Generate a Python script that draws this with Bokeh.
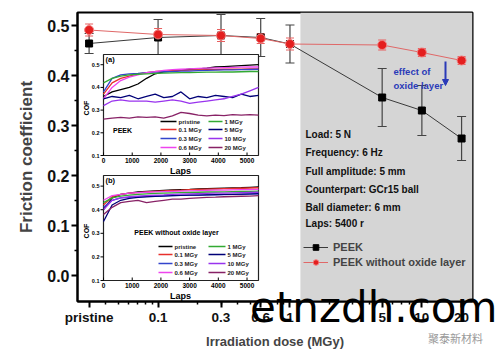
import math
from bokeh.plotting import figure
from bokeh.layouts import column
from bokeh.models import (Range1d, LinearScale, FixedTicker, Whisker, TeeHead, BoxAnnotation,
                          Legend, LegendItem, ColumnDataSource, Arrow, NormalHead, Div)
from bokeh.core.properties import value
from bokeh.embed import file_html
from bokeh.resources import INLINE

# ---------------- main chart data ----------------
doses = [0.03, 0.1, 0.3, 0.6, 1, 5, 10, 20]
dose_tick_labels = ["pristine", "0.1", "0.3", "0.6", "1", "5", "10", "20"]
peek_cof = [0.464, 0.476, 0.480, 0.476, 0.463, 0.356, 0.330, 0.274]
peek_err = [0.020, 0.036, 0.042, 0.038, 0.038, 0.058, 0.050, 0.044]
noox_cof = [0.491, 0.482, 0.480, 0.474, 0.463, 0.461, 0.446, 0.430]
noox_err = [0.012, 0.012, 0.012, 0.010, 0.012, 0.010, 0.008, 0.008]
shaded_from_dose = 1.2
y_ticks = [0.0, 0.1, 0.2, 0.3, 0.4, 0.5]
y_tick_labels = ["0.0", "0.1", "0.2", "0.3", "0.4", "0.5"]
test_conditions = ["Load: 5 N", "Frequency: 6 Hz", "Full amplitude: 5 mm",
                   "Counterpart: GCr15 ball", "Ball diameter: 6 mm", "Laps: 5400 r"]

# ---------------- inset data (COF vs laps) ----------------
laps = [0, 300, 600, 900, 1200, 1500, 1800, 2100, 2400, 2700, 3000,
        3300, 3600, 3900, 4200, 4500, 4800, 5100, 5400]
series_labels = ["pristine", "0.1 MGy", "0.3 MGy", "0.6 MGy", "1 MGy", "5 MGy", "10 MGy", "20 MGy"]
series_colors = ["#000000", "#e8302c", "#3344cc", "#ee44ee", "#33aa33", "#000077", "#9933ee", "#882266"]

# (a) PEEK
a_pristine = [0.36, 0.38, 0.39, 0.40, 0.415, 0.44, 0.46, 0.468, 0.472, 0.476, 0.48, 0.482, 0.485, 0.49, 0.492, 0.494, 0.496, 0.498, 0.50]
a_0p1 = [0.37, 0.42, 0.44, 0.45, 0.46, 0.465, 0.47, 0.472, 0.474, 0.475, 0.476, 0.477, 0.478, 0.479, 0.48, 0.48, 0.481, 0.482, 0.482]
a_0p3 = [0.38, 0.44, 0.455, 0.46, 0.462, 0.465, 0.467, 0.469, 0.47, 0.472, 0.472, 0.474, 0.475, 0.476, 0.477, 0.477, 0.478, 0.479, 0.48]
a_0p6 = [0.35, 0.40, 0.43, 0.445, 0.455, 0.465, 0.47, 0.475, 0.478, 0.48, 0.482, 0.484, 0.485, 0.486, 0.487, 0.488, 0.489, 0.49, 0.49]
a_1 = [0.42, 0.44, 0.45, 0.455, 0.458, 0.46, 0.462, 0.463, 0.464, 0.465, 0.465, 0.466, 0.467, 0.467, 0.468, 0.468, 0.469, 0.47, 0.47]
a_5 = [0.35, 0.36, 0.355, 0.365, 0.35, 0.36, 0.37, 0.355, 0.36, 0.38, 0.35, 0.36, 0.355, 0.365, 0.36, 0.355, 0.37, 0.36, 0.365]
a_10 = [0.32, 0.34, 0.345, 0.34, 0.34, 0.34, 0.335, 0.34, 0.345, 0.34, 0.33, 0.335, 0.34, 0.345, 0.35, 0.36, 0.37, 0.385, 0.40]
a_20 = [0.26, 0.265, 0.268, 0.265, 0.27, 0.268, 0.27, 0.265, 0.275, 0.29, 0.285, 0.278, 0.275, 0.278, 0.276, 0.28, 0.278, 0.28, 0.278]

# (b) PEEK without oxide layer
b_pristine = [0.40, 0.45, 0.465, 0.47, 0.475, 0.478, 0.48, 0.482, 0.484, 0.485, 0.486, 0.488, 0.489, 0.49, 0.491, 0.492, 0.493, 0.495, 0.497]
b_0p1 = [0.42, 0.455, 0.465, 0.47, 0.472, 0.475, 0.478, 0.48, 0.482, 0.483, 0.485, 0.486, 0.487, 0.488, 0.489, 0.49, 0.491, 0.492, 0.493]
b_0p3 = [0.41, 0.44, 0.45, 0.452, 0.455, 0.457, 0.458, 0.46, 0.46, 0.461, 0.462, 0.462, 0.463, 0.463, 0.464, 0.465, 0.465, 0.466, 0.467]
b_0p6 = [0.44, 0.46, 0.465, 0.47, 0.472, 0.474, 0.476, 0.477, 0.478, 0.479, 0.48, 0.481, 0.482, 0.483, 0.483, 0.484, 0.485, 0.485, 0.486]
b_1 = [0.43, 0.45, 0.458, 0.462, 0.465, 0.467, 0.469, 0.47, 0.471, 0.472, 0.473, 0.474, 0.475, 0.475, 0.476, 0.477, 0.478, 0.478, 0.479]
b_5 = [0.35, 0.42, 0.44, 0.448, 0.452, 0.455, 0.457, 0.458, 0.46, 0.461, 0.462, 0.462, 0.463, 0.464, 0.465, 0.465, 0.466, 0.467, 0.468]
b_10 = [0.40, 0.44, 0.45, 0.455, 0.458, 0.46, 0.462, 0.463, 0.465, 0.466, 0.467, 0.468, 0.469, 0.47, 0.47, 0.471, 0.472, 0.473, 0.474]
b_20 = [0.38, 0.41, 0.43, 0.435, 0.44, 0.43, 0.435, 0.44, 0.445, 0.445, 0.448, 0.45, 0.452, 0.453, 0.455, 0.456, 0.457, 0.458, 0.46]

inset_x_ticks = [0, 1000, 2000, 3000, 4000, 5000]
inset_y_ticks = [0.1, 0.2, 0.3, 0.4, 0.5]

a_series = [a_pristine, a_0p1, a_0p3, a_0p6, a_1, a_5, a_10, a_20]
b_series = [b_pristine, b_0p1, b_0p3, b_0p6, b_1, b_5, b_10, b_20]

# ---------------- layout (page pixels) ----------------
FONT = "Liberation Sans"
W, H = 496, 358
FR_L, FR_R, FR_T, FR_B = 77, 472, 12, 301
X_LO, X_HI = 0.0245, 24.2
Y_LO, Y_HI = -0.052, 0.526


def mx(px):
    a, b = math.log10(X_LO), math.log10(X_HI)
    return 10 ** (a + (px - FR_L) / (FR_R - FR_L) * (b - a))


def my(py):
    return Y_LO + (FR_B - py) / (FR_B - FR_T) * (Y_HI - Y_LO)


IN_L, IN_R = 103, 258
A_T, A_B = 54, 155
B_T, B_B = 175, 280
LAPS_LO, LAPS_HI = 0, 5400
COF_LO, COF_HI = 0.1, 0.545
sxl = (LAPS_HI - LAPS_LO) / (IN_R - IN_L)
sya = (COF_HI - COF_LO) / (A_B - A_T)
syb = (COF_HI - COF_LO) / (B_B - B_T)


def ix(px):
    return LAPS_LO + (px - IN_L) * sxl


def iya(py):
    return COF_LO + (A_B - py) * sya


def iyb(py):
    return COF_LO + (B_B - py) * syb


p = figure(width=W, height=H, x_axis_type="log",
           x_range=Range1d(X_LO, X_HI), y_range=Range1d(Y_LO, Y_HI),
           output_backend="svg", toolbar_location=None,
           min_border_left=FR_L, min_border_right=W - FR_R,
           min_border_top=FR_T, min_border_bottom=H - FR_B)
p.extra_x_ranges = {"laps": Range1d(ix(FR_L), ix(FR_R))}
p.extra_x_scales = {"laps": LinearScale()}
p.extra_y_ranges = {"cof_a": Range1d(iya(FR_B), iya(FR_T)),
                    "cof_b": Range1d(iyb(FR_B), iyb(FR_T))}

p.grid.visible = False
p.outline_line_color = "black"
p.outline_line_width = 2
p.background_fill_color = "white"
p.border_fill_color = "white"

# shaded region
p.add_layout(BoxAnnotation(left=shaded_from_dose, fill_color="#d5d5d5", fill_alpha=1,
                           line_color=None, level="image"))

# error bars
src_peek = ColumnDataSource(dict(x=doses,
                                 upper=[c + e for c, e in zip(peek_cof, peek_err)],
                                 lower=[c - e for c, e in zip(peek_cof, peek_err)]))
src_noox = ColumnDataSource(dict(x=doses,
                                 upper=[c + e for c, e in zip(noox_cof, noox_err)],
                                 lower=[c - e for c, e in zip(noox_cof, noox_err)]))
p.add_layout(Whisker(source=src_peek, base="x", upper="upper", lower="lower",
                     line_color="#444444", line_width=1.2,
                     upper_head=TeeHead(size=9, line_color="#444444", line_width=1.2),
                     lower_head=TeeHead(size=9, line_color="#444444", line_width=1.2)))
p.add_layout(Whisker(source=src_noox, base="x", upper="upper", lower="lower",
                     line_color="#e86060", line_width=1.2,
                     upper_head=TeeHead(size=8, line_color="#e86060", line_width=1.2),
                     lower_head=TeeHead(size=8, line_color="#e86060", line_width=1.2)))

l1 = p.line(doses, peek_cof, line_color="#3a3a3a", line_width=1)
s1 = p.scatter(doses, peek_cof, marker="square", size=7, fill_color="black", line_color="black")
l2 = p.line(doses, noox_cof, line_color="#e06868", line_width=1)
s2 = p.scatter(doses, noox_cof, marker="circle", size=9, fill_color="#e41f1f",
               line_color="#f08080", line_width=1)

# axes
p.xaxis.ticker = FixedTicker(
    ticks=doses,
    minor_ticks=[m * 10 ** e for e in (-2, -1, 0, 1) for m in range(2, 10)
                 if X_LO < m * 10 ** e < X_HI and m * 10 ** e not in doses])
p.xaxis.major_label_overrides = {float(d): t for d, t in zip(doses, dose_tick_labels)}
p.yaxis.ticker = FixedTicker(ticks=y_ticks, minor_ticks=[0.05, 0.15, 0.25, 0.35, 0.45])
p.yaxis.major_label_overrides = {float(v): t for v, t in zip(y_ticks, y_tick_labels)}
for ax in (p.xaxis[0], p.yaxis[0]):
    ax.axis_line_width = 2
    ax.major_tick_line_width = 2
    ax.minor_tick_line_width = 1.5
    ax.major_tick_in = 0
    ax.major_tick_out = 6
    ax.minor_tick_in = 0
    ax.minor_tick_out = 3
    ax.major_label_text_font = FONT
    ax.major_label_text_font_style = "bold"
    ax.axis_label_text_font = FONT
    ax.axis_label_text_font_style = "bold"
    ax.major_label_text_color = "#111111"
p.xaxis.major_label_text_font_size = "13.5px"
p.xaxis.major_label_standoff = 2
p.xaxis.axis_label = "Irradiation dose (MGy)"
p.xaxis.axis_label_text_font_size = "13px"
p.xaxis.axis_label_standoff = 6
p.yaxis.major_label_text_font_size = "16px"
p.yaxis.major_label_standoff = 2
p.yaxis.axis_label = "Friction coefficient"
p.yaxis.axis_label_text_font_size = "17px"
p.yaxis.axis_label_standoff = 8

# main legend
legend = Legend(items=[LegendItem(label="PEEK", renderers=[l1, s1]),
                       LegendItem(label="PEEK without oxide layer", renderers=[l2, s2])],
                location=(303 - FR_L, FR_B - 269), padding=0, margin=0, spacing=1,
                glyph_width=25, glyph_height=14, label_height=14, label_standoff=5,
                label_text_font=FONT, label_text_font_style="bold", label_text_font_size="11px",
                border_line_color=None, background_fill_alpha=0)
p.add_layout(legend)

# test condition text in shaded region
cond_y = [134, 152, 171, 189, 207, 223]
p.text(x=[mx(305)] * len(test_conditions), y=[my(v) for v in cond_y], text=test_conditions,
       text_font=value(FONT), text_font_style="bold", text_font_size="10px",
       text_color="#111111", text_align="left", text_baseline="middle")
p.text(x=[mx(393)] * 2, y=[my(71), my(85)], text=["effect of", "oxide layer"],
       text_font=value(FONT), text_font_style="bold", text_font_size="9.5px",
       text_color="#2a3ab8", text_align="left", text_baseline="middle")
p.add_layout(Arrow(end=NormalHead(size=6, fill_color="#2a3ab8", line_color="#2a3ab8"),
                   x_start=mx(445), y_start=my(61), x_end=mx(445), y_end=my(85),
                   line_color="#2a3ab8", line_width=2))


# ---------------- insets ----------------
def draw_inset(yname, series, iy, top_px, bot_px, tag, title, title_px, rows_px, cols_px):
    kw = dict(x_range_name="laps", y_range_name=yname)
    p.quad(left=LAPS_LO, right=LAPS_HI, bottom=COF_LO, top=COF_HI,
           fill_color="white", line_color="#222222", line_width=1.2, **kw)
    for ys, c in zip(series, series_colors):
        p.line(laps, ys, line_color=c, line_width=1.3, **kw)
    # ticks
    p.segment(x0=inset_x_ticks, x1=inset_x_ticks, y0=[COF_LO] * len(inset_x_ticks),
              y1=[iy(bot_px - 3)] * len(inset_x_ticks), line_color="black", line_width=1, **kw)
    p.segment(x0=[ix(IN_L - 3)] * len(inset_y_ticks), x1=[LAPS_LO] * len(inset_y_ticks),
              y0=inset_y_ticks, y1=inset_y_ticks, line_color="black", line_width=1, **kw)
    p.text(x=inset_x_ticks, y=[iy(bot_px + 2)] * len(inset_x_ticks),
           text=[str(t) for t in inset_x_ticks], text_font=value(FONT), text_font_style="bold",
           text_font_size="6.5px", text_align="center", text_baseline="top", **kw)
    p.text(x=[ix(IN_L - 4)] * len(inset_y_ticks), y=inset_y_ticks,
           text=["%.1f" % t for t in inset_y_ticks], text_font=value(FONT), text_font_style="bold",
           text_font_size="5.5px", text_align="right", text_baseline="middle", **kw)
    p.text(x=[ix(180)], y=[iy(bot_px + 15)], text=["Laps"], text_font=value(FONT),
           text_font_style="bold", text_font_size="9px", text_align="center",
           text_baseline="middle", **kw)
    p.text(x=[ix(86)], y=[iy((top_px + bot_px) / 2 + 3)], text=["COF"], angle=math.pi / 2,
           text_font=value(FONT), text_font_style="bold", text_font_size="7px",
           text_align="center", text_baseline="middle", **kw)
    p.text(x=[ix(105)], y=[iy(top_px + 5)], text=[tag], text_font=value(FONT),
           text_font_style="bold", text_font_size="7.5px", text_align="left",
           text_baseline="middle", **kw)
    p.text(x=[ix(title_px[0])], y=[iy(title_px[1])], text=[title], text_font=value(FONT),
           text_font_style="bold", text_font_size="7px", text_align="center",
           text_baseline="middle", **kw)
    # legend
    for i, (lab, c) in enumerate(zip(series_labels, series_colors)):
        col = i // 4
        row = i % 4
        x0, x1, xt = cols_px[col]
        yy = iy(rows_px[row])
        p.segment(x0=[ix(x0)], x1=[ix(x1)], y0=[yy], y1=[yy], line_color=c, line_width=1.6, **kw)
        p.text(x=[ix(xt)], y=[yy], text=[lab], text_font=value(FONT), text_font_style="bold",
               text_font_size="6px", text_color="#222222", text_align="left",
               text_baseline="middle", **kw)


draw_inset("cof_a", a_series, iya, A_T, A_B, "(a)", "PEEK", (122, 130),
           [121, 129, 138, 147], [(160, 176, 178), (208, 222, 224)])
draw_inset("cof_b", b_series, iyb, B_T, B_B, "(b)", "PEEK without oxide layer", (176, 232),
           [246, 254, 263, 272], [(158, 172, 174), (208, 225, 227)])

# watermark overlay (HTML text placed over the lower right of the chart)
WM_X, WM_TOP = 250, 287
wm = Div(text=('<span style="position:absolute;left:0px;top:0px;font-family:\'DejaVu Sans\';'
               'font-size:42px;line-height:42px;color:#000;white-space:nowrap">etnzdh.com</span>'
               '<span style="position:absolute;left:178px;top:45px;font-family:\'Noto Sans CJK SC\';'
               'font-size:11px;line-height:12px;color:#9a9a9a;white-space:nowrap">聚泰新材料</span>'),
         width=W - WM_X, height=60, margin=(WM_TOP - H, 0, 0, WM_X),
         styles={"position": "relative", "z-index": "10", "overflow": "hidden"})

layout = column(p, wm)
open("out.html", "w").write(file_html(layout, INLINE))
